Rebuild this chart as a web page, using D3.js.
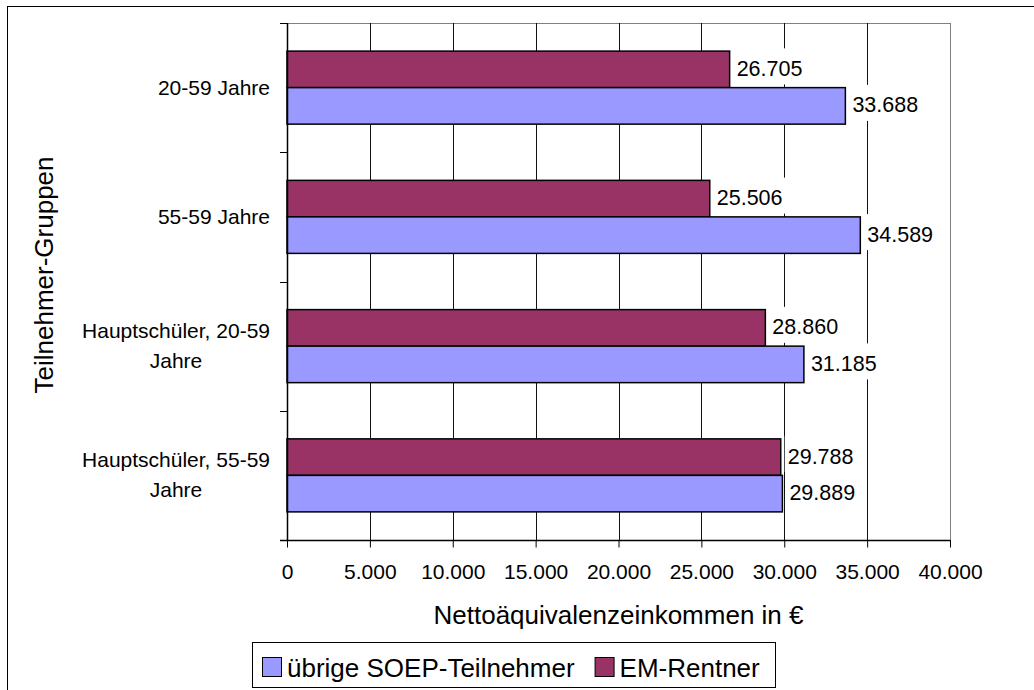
<!DOCTYPE html>
<html>
<head>
<meta charset="utf-8">
<script src="https://cdn.jsdelivr.net/npm/d3@7/dist/d3.min.js"></script>
<style>
  html, body { margin: 0; padding: 0; background: #fff; }
  svg { display: block; font-family: "Liberation Sans", Arial, sans-serif; }
</style>
</head>
<body>
<svg id="chart" width="1034" height="690"></svg>
<script>
// Participant groups (top to bottom); "\n" marks a wrapped line
const categories = [
  "20-59 Jahre",
  "55-59 Jahre",
  "Hauptschüler, 20-59\nJahre",
  "Hauptschüler, 55-59\nJahre"
];
// Net equivalent income in € per group
const emRentner = [26705, 25506, 28860, 29788];
const uebrigeSoep = [33688, 34589, 31185, 29889];
const seriesNames = ["EM-Rentner", "übrige SOEP-Teilnehmer"];
const legendOrder = ["übrige SOEP-Teilnehmer", "EM-Rentner"];
const xTicks = [0, 5000, 10000, 15000, 20000, 25000, 30000, 35000, 40000];
const xTitle = "Nettoäquivalenzeinkommen in €";
const yTitle = "Teilnehmer-Gruppen";

const colors = { "EM-Rentner": "#993366", "übrige SOEP-Teilnehmer": "#9999FF" };

const W = 1034, H = 690;
const plot = { left: 287, right: 950, top: 23, bottom: 540 };

const svg = d3.select("#chart");
const de = d3.formatLocale({ decimal: ",", thousands: ".", grouping: [3], currency: ["", " €"] });
const fmt = de.format(",");

// outer chart frame (runs past the right and bottom edges)
svg.append("rect")
  .attr("x", 7.5).attr("y", 6.5)
  .attr("width", 1040).attr("height", 700)
  .attr("fill", "none").attr("stroke", "#000").attr("stroke-width", 1);

const x = d3.scaleLinear().domain([0, 40000]).range([plot.left, plot.right]);
const y = d3.scaleBand().domain(categories).range([plot.top, plot.bottom]).padding(0);
const bw = y.bandwidth();
const pad = bw * 0.2175;
const ySeries = d3.scaleBand().domain(seriesNames).range([pad, bw - pad]).padding(0);

const rows = categories.map((c, i) => ({
  cat: c,
  values: [
    { series: "EM-Rentner", value: emRentner[i] },
    { series: "übrige SOEP-Teilnehmer", value: uebrigeSoep[i] }
  ]
}));

// plot area border
svg.append("rect")
  .attr("x", plot.left + 0.5).attr("y", plot.top + 0.5)
  .attr("width", plot.right - plot.left).attr("height", plot.bottom - plot.top)
  .attr("fill", "#fff").attr("stroke", "#808080").attr("stroke-width", 1);

// vertical gridlines
svg.append("g").selectAll("line")
  .data(xTicks.filter(t => t > 0 && t < 40000))
  .join("line")
  .attr("x1", d => Math.round(x(d)) + 0.5).attr("x2", d => Math.round(x(d)) + 0.5)
  .attr("y1", plot.top).attr("y2", plot.bottom)
  .attr("stroke", "#111").attr("stroke-width", 1);

// bars
const groups = svg.append("g").selectAll("g")
  .data(rows).join("g")
  .attr("transform", d => `translate(0,${y(d.cat)})`);

groups.selectAll("rect")
  .data(d => d.values).join("rect")
  .attr("x", x(0))
  .attr("y", d => ySeries(d.series))
  .attr("width", d => x(d.value) - x(0))
  .attr("height", ySeries.bandwidth())
  .attr("fill", d => colors[d.series])
  .attr("stroke", "#000").attr("stroke-width", 1.5);

// value labels on white backing
const labels = groups.selectAll("g.lab")
  .data(d => d.values).join("g").attr("class", "lab");
labels.append("rect").attr("class", "bg").attr("fill", "#fff");
labels.append("text")
  .attr("x", d => x(d.value) + 7)
  .attr("y", d => ySeries(d.series) + ySeries.bandwidth() / 2 + 6.5)
  .attr("font-size", 21.5)
  .attr("fill", "#000")
  .text(d => fmt(d.value));
labels.each(function(d) {
  const g = d3.select(this);
  const len = g.select("text").node().getComputedTextLength();
  g.select("rect.bg")
    .attr("x", x(d.value) + 4)
    .attr("y", ySeries(d.series) + ySeries.bandwidth() / 2 - 21)
    .attr("width", len + 6)
    .attr("height", 36);
});

// y axis line and category ticks
svg.append("line")
  .attr("x1", plot.left + 0.5).attr("x2", plot.left + 0.5)
  .attr("y1", plot.top).attr("y2", plot.bottom)
  .attr("stroke", "#000").attr("stroke-width", 1.5);
const boundaries = categories.map(c => y(c)).concat([plot.bottom]);
svg.append("g").selectAll("line")
  .data(boundaries).join("line")
  .attr("x1", plot.left - 7).attr("x2", plot.left)
  .attr("y1", d => Math.round(d) + 0.5).attr("y2", d => Math.round(d) + 0.5)
  .attr("stroke", "#000").attr("stroke-width", 1);

// category labels (wrapped lines centered within a right-aligned block)
const catG = svg.append("g").attr("font-size", 21).attr("fill", "#000");
categories.forEach(c => {
  const lines = c.split("\n");
  const cy = y(c) + bw / 2;
  const t = catG.append("text").attr("text-anchor", "middle");
  const spans = lines.map((ln, i) => t.append("tspan")
    .attr("y", cy + 7 + (i - (lines.length - 1) / 2) * 30)
    .text(ln));
  const maxW = d3.max(spans, s => s.node().getComputedTextLength());
  spans.forEach(s => s.attr("x", 270 - maxW / 2));
});

// x axis
const xAxis = d3.axisBottom(x)
  .tickValues(xTicks)
  .tickFormat(d => fmt(d))
  .tickSize(7)
  .tickPadding(17)
  .tickSizeOuter(0);
const xg = svg.append("g")
  .attr("transform", `translate(0,${plot.bottom + 0.5})`)
  .call(xAxis);
xg.select(".domain").remove();
xg.selectAll(".tick line").attr("stroke", "#000");
xg.selectAll(".tick text")
  .attr("font-size", 21)
  .attr("font-family", "'Liberation Sans', Arial, sans-serif")
  .attr("fill", "#000");
svg.append("line")
  .attr("x1", plot.left - 7).attr("x2", plot.right + 0.5)
  .attr("y1", plot.bottom + 0.5).attr("y2", plot.bottom + 0.5)
  .attr("stroke", "#000").attr("stroke-width", 1.5);

// axis titles
svg.append("text")
  .attr("x", (plot.left + plot.right) / 2)
  .attr("y", 624)
  .attr("text-anchor", "middle")
  .attr("font-size", 26)
  .text(xTitle);

svg.append("text")
  .attr("transform", "translate(53,275) rotate(-90)")
  .attr("text-anchor", "middle")
  .attr("font-size", 26)
  .text(yTitle);

// legend
const legend = svg.append("g");
legend.append("rect")
  .attr("x", 252.5).attr("y", 642.5)
  .attr("width", 523).attr("height", 45)
  .attr("fill", "#fff").attr("stroke", "#000").attr("stroke-width", 1);
let lx = 262;
legendOrder.forEach(name => {
  legend.append("rect")
    .attr("x", lx + 0.5).attr("y", 657.5)
    .attr("width", 19).attr("height", 19)
    .attr("fill", colors[name]).attr("stroke", "#000").attr("stroke-width", 1);
  const t = legend.append("text")
    .attr("x", lx + 25).attr("y", 677)
    .attr("font-size", 26)
    .text(name);
  lx += 25 + t.node().getComputedTextLength() + 20;
});
</script>
</body>
</html>
